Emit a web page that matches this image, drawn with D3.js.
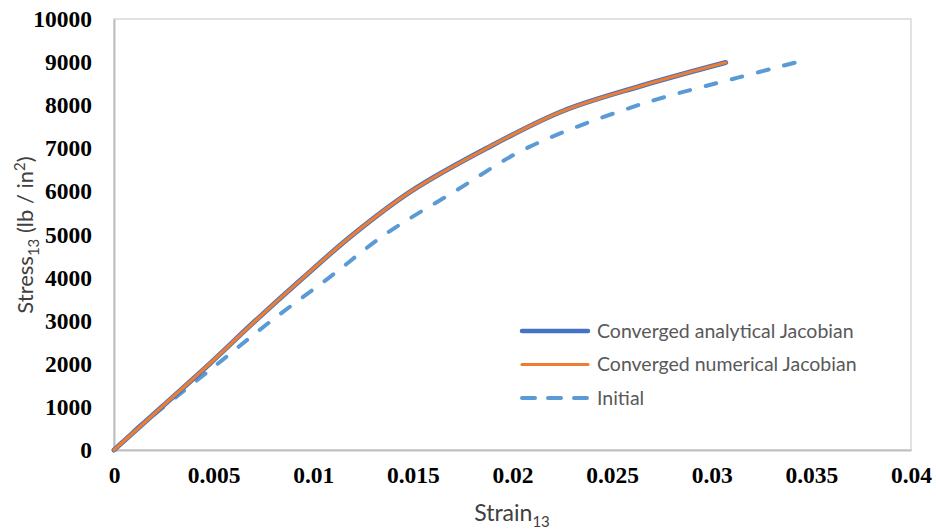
<!DOCTYPE html>
<html lang="en">
  <head>
    <meta charset="utf-8">
    <title>Stress-strain</title>
    <script src="https://cdn.jsdelivr.net/npm/d3@7"></script>
    <style>
      body { margin: 0; background: white; }
      .tick text { font-family: "Liberation Serif", "Times New Roman", serif; font-weight: bold; font-size: 23.5px; fill: black; }
      .title { font-family: Lato, "Noto Sans", sans-serif; fill: #404040; }
      .legend text { font-family: Lato, "Noto Sans", sans-serif; fill: #595959; }
    </style>
  </head>
  <body>
    <script>
      // converged analytical / numerical Jacobian (they lie on top of each other)
      var convStrain = [0, 0.0024, 0.0048, 0.0071, 0.0095, 0.0120, 0.0149, 0.0187, 0.0225, 0.0264, 0.0307];
      var convStress = [0, 1000, 2000, 3000, 4000, 5000, 6000, 7000, 7860, 8440, 8990];
      // initial
      var initStrain = [0, 0.0012, 0.0025, 0.0052, 0.0079, 0.0108, 0.0136, 0.0171, 0.0207, 0.0263, 0.0314, 0.0342];
      var initStress = [0, 520, 1000, 2000, 3000, 4000, 5000, 6000, 7000, 8000, 8650, 8990];

      var xTicks = [0, 0.005, 0.01, 0.015, 0.02, 0.025, 0.03, 0.035, 0.04];
      var yTicks = [0, 1000, 2000, 3000, 4000, 5000, 6000, 7000, 8000, 9000, 10000];
      var seriesNames = ["Converged analytical Jacobian", "Converged numerical Jacobian", "Initial"];

      var width = 936, height = 529;
      var margin = {top: 19, right: 25, bottom: 79, left: 114};

      var svg = d3.select("body").append("svg")
                  .attr("width", width)
                  .attr("height", height);

      var x = d3.scaleLinear().domain([0, 0.04]).range([margin.left, width - margin.right]);
      var y = d3.scaleLinear().domain([0, 10000]).range([height - margin.bottom, margin.top]);

      // plot box
      svg.append("rect")
         .attr("x", x(0)).attr("y", y(10000))
         .attr("width", x(0.04) - x(0)).attr("height", y(0) - y(10000))
         .attr("fill", "none").attr("stroke", "#d9d9d9").attr("stroke-width", 1.5);

      var xAxis = svg.append("g")
         .attr("transform", "translate(0," + y(0) + ")")
         .call(d3.axisBottom(x).tickValues(xTicks).tickSize(0).tickPadding(16)
                 .tickFormat(d => d === 0 ? "0" : String(+d.toFixed(3))));
      xAxis.select(".domain").attr("stroke", "#bfbfbf").attr("stroke-width", 2);

      var yAxis = svg.append("g")
         .attr("transform", "translate(" + x(0) + ",0)")
         .call(d3.axisLeft(y).tickValues(yTicks).tickSize(0).tickPadding(22).tickFormat(d3.format("d")));
      yAxis.select(".domain").attr("stroke", "#bfbfbf").attr("stroke-width", 2);

      var line = d3.line()
                   .x(d => x(d[0]))
                   .y(d => y(d[1]))
                   .curve(d3.curveCatmullRom.alpha(0.5));

      var conv = convStrain.map((s, i) => [s, convStress[i]]);
      var init = initStrain.map((s, i) => [s, initStress[i]]);

      svg.append("path").datum(init)
         .attr("d", line).attr("fill", "none")
         .attr("stroke", "#5b9bd5").attr("stroke-width", 4)
         .attr("stroke-dasharray", "11 16").attr("stroke-linecap", "round");

      svg.append("path").datum(conv)
         .attr("d", line).attr("fill", "none")
         .attr("stroke", "#4472c4").attr("stroke-width", 5).attr("stroke-linecap", "round");

      svg.append("path").datum(conv)
         .attr("d", line).attr("fill", "none")
         .attr("stroke", "#ed7d31").attr("stroke-width", 3.2).attr("stroke-linecap", "round");

      // axis titles
      var xt = svg.append("text").attr("class", "title")
         .attr("x", 512).attr("y", 521).attr("text-anchor", "middle")
         .style("font-size", "23px");
      xt.append("tspan").text("Strain");
      xt.append("tspan").attr("dy", 6).style("font-size", "15px").text("13");

      var yt = svg.append("text").attr("class", "title")
         .attr("transform", "translate(33,235) rotate(-90)")
         .attr("text-anchor", "middle")
         .style("font-size", "22px");
      yt.append("tspan").text("Stress");
      yt.append("tspan").attr("dy", 6).style("font-size", "15px").text("13");
      yt.append("tspan").attr("dy", -6).text(" (lb / in");
      yt.append("tspan").attr("dy", -8).style("font-size", "15px").text("2");
      yt.append("tspan").attr("dy", 8).text(")");

      // legend
      var legend = svg.append("g").attr("class", "legend");
      var legendStyle = [
        {stroke: "#4472c4", w: 4.5, dash: null},
        {stroke: "#ed7d31", w: 3.2, dash: null},
        {stroke: "#5b9bd5", w: 4, dash: "13 13"}
      ];
      seriesNames.forEach(function(name, i) {
        var ly = 331 + i * 33.5;
        legend.append("line")
              .attr("x1", 522).attr("x2", 588).attr("y1", ly).attr("y2", ly)
              .attr("stroke", legendStyle[i].stroke)
              .attr("stroke-width", legendStyle[i].w)
              .attr("stroke-linecap", "round")
              .attr("stroke-dasharray", legendStyle[i].dash);
        legend.append("text")
              .attr("x", 597).attr("y", ly + 6.5)
              .style("font-size", "19.5px")
              .text(name);
      });
    </script>
  </body>
</html>
